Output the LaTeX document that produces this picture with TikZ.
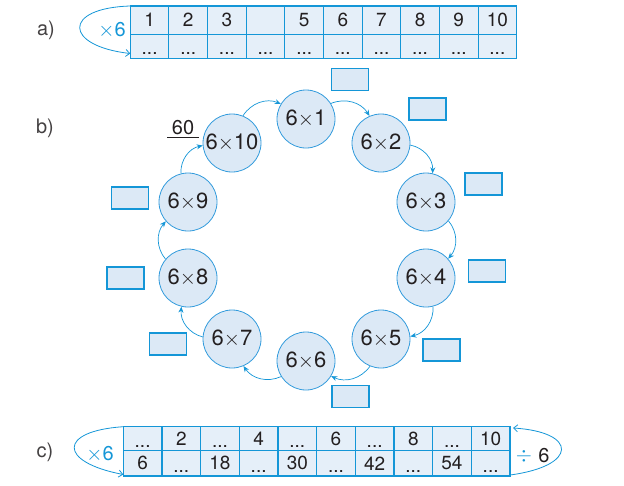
\documentclass[tikz,border=0pt]{standalone}
\usepackage{fontspec}
\setmainfont{TeX Gyre Heros}
\usetikzlibrary{arrows.meta}
\definecolor{lineblue}{RGB}{20,150,215}
\definecolor{cellfill}{RGB}{229,239,249}
\definecolor{circfill}{RGB}{220,233,246}
\definecolor{circline}{RGB}{50,155,220}
\definecolor{txt}{RGB}{35,31,32}
\newcommand{\tms}{\ensuremath{{\times}}}
\begin{document}
\begin{tikzpicture}[x=1pt,y=-1pt,
  cell/.style={draw=lineblue, fill=cellfill, line width=1.1pt, minimum width=38.64pt, inner sep=0pt, outer sep=0pt},
  num/.style={font=\fontsize{19}{19}\selectfont, text=txt, inner sep=0pt},
  dotsx/.style={num, anchor=base},
  lab/.style={font=\fontsize{20}{20}\selectfont, text=txt!85!white, inner sep=0pt},
  bluetxt/.style={font=\fontsize{20}{20}\selectfont, text=lineblue, inner sep=0pt},
  mult/.style={circle, draw=circline, fill=circfill, line width=0.8pt, minimum size=58pt, inner sep=0pt, font=\fontsize{22}{22}\selectfont, text=txt},
  ans/.style={draw=lineblue, fill=circfill, line width=1.1pt, minimum width=37pt, minimum height=22pt, inner sep=0pt},
  ring/.style={lineblue, line width=0.7pt, -{Stealth[length=6pt,width=5pt]}},
  loop/.style={lineblue, line width=0.8pt, -{Straight Barb[length=4pt,width=7pt]}},
  ]
\useasboundingbox (0,0) rectangle (624,485);

% ---------- a) ----------
\node[lab] (la) at (46,30) {a)};
\foreach \v [count=\i] in {1,2,3,{},5,6,7,8,9,10} {
  \node[cell, minimum height=28.3pt] (a1-\i) at ({130.3+38.64*(\i-0.5)}, 20.15) {};
  \node[num] (a1t-\i) at (a1-\i.center) {\v};
}
\foreach \i in {1,...,10} {
  \node[cell, minimum height=24pt] (a2-\i) at ({130.3+38.64*(\i-0.5)}, 46.3) {};
  \node[dotsx] (a2t-\i) at ([yshift=4pt]a2-\i.south) {...};
}
\node[bluetxt] (xa) at (112,30) {\tms6};
\coordinate (ae) at (130.3,53.5);
\draw[loop] (a1-1.north west) .. controls (62,8) and (64,46) .. (ae);

% ---------- b) ----------
\node[lab] (lb) at (45,128) {b)};
\node[mult] (c1) at (306,119) {6\tms1};
\node[mult] (c2) at (381,143) {6\tms2};
\node[mult] (c3) at (426,202) {6\tms3};
\node[mult] (c4) at (426,278) {6\tms4};
\node[mult] (c5) at (381,339) {6\tms5};
\node[mult] (c6) at (306,361) {6\tms6};
\node[mult] (c7) at (232,339) {6\tms7};
\node[mult] (c8) at (188,278) {6\tms8};
\node[mult] (c9) at (188,202) {6\tms9};
\node[mult] (c10) at (232,143) {6\tms10};

\foreach \a/\b/\s/\e in {c1/c2/32/113, c2/c3/-4/77, c3/c4/-40/41, c4/c5/-76/5,
  c5/c6/-112/-31, c6/c7/-148/-67, c7/c8/176/-103, c8/c9/140/221, c9/c10/104/185, c10/c1/68/149} {
  \draw[ring] (\a.\s) to[bend left=40] (\b.\e);
}

\node[ans] (r1) at (350,79.5) {};
\node[ans] (r2) at (427.5,109) {};
\node[ans] (r3) at (483.5,184) {};
\node[ans] (r4) at (487,271) {};
\node[ans] (r5) at (441.5,350) {};
\node[ans] (r6) at (350.5,396.5) {};
\node[ans] (r7) at (168,344) {};
\node[ans] (r8) at (125.5,278) {};
\node[ans] (r9) at (130,198) {};

\node[lab, text=txt] (r10) at (183,128) {60};
\coordinate (u1) at (167,137);
\coordinate (u2) at (199,137);
\draw[txt, line width=0.8pt] (u1) -- (u2);

% ---------- c) ----------
\node[lab] (lc) at (45,452) {c)};
\foreach \i in {1,2,3,4,5,6,7,8,9,10} {
  \node[cell, minimum width=38.67pt, minimum height=24pt] (b1-\i) at ({123.3+38.67*(\i-0.5)}, 438.7) {};
  \node[cell, minimum width=38.67pt, minimum height=25.3pt] (b2-\i) at ({123.3+38.67*(\i-0.5)}, 463.35) {};
}
\foreach \i/\j in {1/2,3/4,5/6,7/8,9/10} {
  \node[dotsx] (b1t-\i) at ([yshift=3.5pt]b1-\i.south) {...};
  \node[dotsx] (b2t-\j) at ([yshift=3.5pt]b2-\j.south) {...};
}
\node[num] (b1t-2) at (b1-2.center) {2};
\node[num] (b1t-4) at (b1-4.center) {4};
\node[num] (b1t-6) at (b1-6.center) {6};
\node[num] (b1t-8) at (b1-8.center) {8};
\node[num] (b1t-10) at (b1-10.center) {10};
\node[num] (b2t-1) at (b2-1.center) {6};
\node[num] (b2t-3) at (b2-3.center) {18};
\node[num] (b2t-5) at (b2-5.center) {30};
\node[num] (b2t-7) at (b2-7.center) {42};
\node[num] (b2t-9) at (b2-9.center) {54};

\node[bluetxt] (xc) at (100,454) {\tms6};
\coordinate (ce) at (123.3,474.5);
\draw[loop] (b1-1.north west) .. controls (58,431) and (58,462) .. (ce);
\node[bluetxt] (dv) at (524,456) {\ensuremath{\div}};
\node[lab, text=txt] (dsix) at (544,456) {6};
\coordinate (cs) at (510,475);
\coordinate (ct) at (513,428);
\draw[loop] (cs) .. controls (578,466) and (578,432) .. (ct);
\end{tikzpicture}
\end{document}
